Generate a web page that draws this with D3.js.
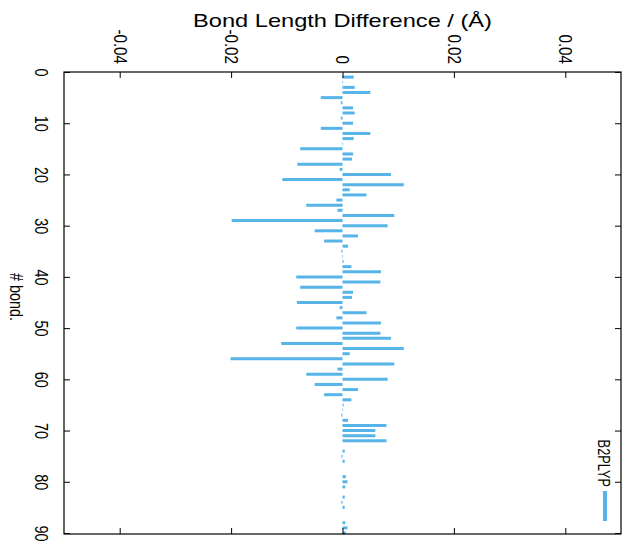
<!DOCTYPE html>
<html>
<head>
<meta charset="utf-8">
<script src="https://cdn.jsdelivr.net/npm/d3@7"></script>
<style>
  body { margin: 0; background: #fff; }
  text { fill: #000; }
</style>
</head>
<body>
<div id="plot"></div>
<script>
// ---- data ----
var bondIndex = d3.range(1, 91);
var lengthDiff = [
    0.0020, 0.0001, 0.0022, 0.0050, -0.0039, -0.0003, 0.0019, 0.0022, -0.0003, 0.0019,
    -0.0039, 0.0050, 0.0020, 0.0001, -0.0076, 0.0019, 0.0017, -0.0081, -0.0005, 0.0087,
    -0.0108, 0.0110, 0.0013, 0.0043, -0.0011, -0.0065, -0.0009, 0.0093, -0.0199, 0.0081,
    -0.0050, 0.0028, -0.0033, 0.0010, -0.0002, 0.0001, 0.0002, 0.0016, 0.0069, -0.0083,
    0.0068, -0.0076, 0.0019, 0.0017, -0.0082, -0.0005, 0.0043, -0.0011, 0.0069, -0.0083,
    0.0068, 0.0087, -0.0110, 0.0110, 0.0013, -0.0201, 0.0093, -0.0009, -0.0065, 0.0081,
    -0.0050, 0.0028, -0.0033, 0.0016, 0.0002, 0.0001, -0.0002, 0.0010, 0.0079, 0.0059,
    0.0059, 0.0079, 0, 0.0004, -0.0002, 0.0004, 0, 0, 0.0006, 0.0009,
    0.0005, 0, 0.0004, -0.0002, 0.0004, 0, 0, 0.0005, 0.0009, 0.0006
];
var valueTicks = [-0.04, -0.02, 0, 0.02, 0.04];
var valueTickLabels = ["-0.04", "-0.02", "0", "0.02", "0.04"];
var bondTicks = [0, 10, 20, 30, 40, 50, 60, 70, 80, 90];
var seriesName = "B2PLYP";

// ---- workspace ----
var svgWidth = 623, svgHeight = 547;
var plot = { left: 64, right: 621, top: 72, bottom: 534 };
var barColor = "#56B4E9";
var tickFont = "'Liberation Sans', Arial, sans-serif";
// labels are set in a condensed face, so squeeze them along the text direction
var narrow = "scale(0.8, 1)";

var svg = d3.select("#plot")
    .append("svg")
    .attr("width", svgWidth)
    .attr("height", svgHeight);

// value runs across, bond number runs down (the whole chart is turned 90deg)
var xScale = d3.scaleLinear()
    .domain([-0.05, 0.05])
    .range([plot.left, plot.right]);

var yScale = d3.scaleLinear()
    .domain([0, 90])
    .range([plot.top, plot.bottom - 1]);

// ---- bars ----
var barData = bondIndex.map((b, i) => ({ bond: b, diff: lengthDiff[i] }));

svg.append("g")
    .selectAll("line")
    .data(barData)
    .enter()
    .append("line")
    .attr("x1", xScale(0))
    .attr("x2", d => xScale(d.diff))
    .attr("y1", d => yScale(d.bond))
    .attr("y2", d => yScale(d.bond))
    .attr("stroke", barColor)
    .attr("stroke-width", 3);

// ---- axes ----
var topAxis = d3.axisTop(xScale)
    .tickValues(valueTicks)
    .tickSize(-6)
    .tickFormat((d, i) => valueTickLabels[i]);

var bottomAxis = d3.axisBottom(xScale)
    .tickValues(valueTicks)
    .tickSize(-6)
    .tickFormat("");

var leftAxis = d3.axisLeft(yScale)
    .tickValues(bondTicks)
    .tickSize(-6)
    .tickFormat(d3.format("d"));

var rightAxis = d3.axisRight(yScale)
    .tickValues(bondTicks)
    .tickSize(-6)
    .tickFormat("");

var gTop = svg.append("g")
    .attr("transform", `translate(0, ${plot.top})`)
    .call(topAxis);
svg.append("g")
    .attr("transform", `translate(0, ${plot.bottom})`)
    .call(bottomAxis);
var gLeft = svg.append("g")
    .attr("transform", `translate(${plot.left}, 0)`)
    .call(leftAxis);
svg.append("g")
    .attr("transform", `translate(${plot.right}, 0)`)
    .call(rightAxis);

svg.selectAll(".domain").remove();
svg.selectAll(".tick line").attr("stroke", "#000");

// turn tick labels so they read top to bottom
gTop.selectAll(".tick text")
    .attr("x", 0).attr("y", 0)
    .attr("dy", "0.35em")
    .attr("transform", `translate(0, -8) rotate(90) ${narrow}`)
    .attr("text-anchor", "end")
    .attr("font-family", tickFont)
    .attr("font-size", 19);

gLeft.selectAll(".tick text")
    .attr("x", 0).attr("y", 0)
    .attr("dy", "0.35em")
    .attr("transform", `translate(-23, 0) rotate(90) ${narrow}`)
    .attr("text-anchor", "middle")
    .attr("font-family", tickFont)
    .attr("font-size", 18);

// frame
svg.append("rect")
    .attr("x", plot.left)
    .attr("y", plot.top)
    .attr("width", plot.right - plot.left)
    .attr("height", plot.bottom - plot.top)
    .attr("fill", "none")
    .attr("stroke", "#000")
    .attr("stroke-width", 1.2);

// ---- titles ----
svg.append("text")
    .attr("x", 193)
    .attr("y", 27)
    .attr("textLength", 299)
    .attr("lengthAdjust", "spacingAndGlyphs")
    .attr("font-family", "'Liberation Sans', Arial, sans-serif")
    .attr("font-size", 19)
    .text("Bond Length Difference / (Å)");

svg.append("text")
    .attr("transform", `translate(16, 297) rotate(90) ${narrow}`)
    .attr("text-anchor", "middle")
    .attr("dy", "0.35em")
    .attr("font-family", tickFont)
    .attr("font-size", 18)
    .text("# bond.");

// ---- legend ----
svg.append("text")
    .attr("transform", `translate(604, 487) rotate(90) ${narrow}`)
    .attr("text-anchor", "end")
    .attr("dy", "0.35em")
    .attr("font-family", tickFont)
    .attr("font-size", 16)
    .text(seriesName);

svg.append("line")
    .attr("x1", 605).attr("x2", 605)
    .attr("y1", 491).attr("y2", 521)
    .attr("stroke", barColor)
    .attr("stroke-width", 4);
</script>
</body>
</html>
